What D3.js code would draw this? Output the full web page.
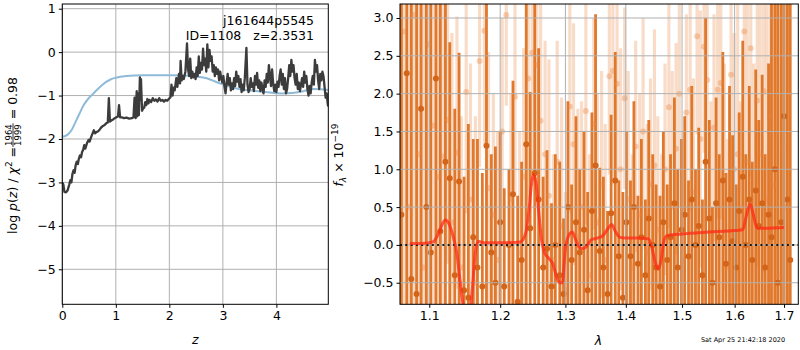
<!DOCTYPE html>
<html><head><meta charset="utf-8">
<script src="https://cdn.jsdelivr.net/npm/d3@7"></script>
<style>body{margin:0;background:#fff} svg{display:block} text{font-family:"DejaVu Sans",sans-serif}</style>
</head><body><svg id="c" width="800" height="350"></svg>
<script>
// ---------- left panel data: log p(z) ----------
const zVals = [0.00,0.02,0.04,0.07,0.10,0.13,0.15,0.17,0.19,0.21,0.23,0.25,0.27,0.29,0.31,0.33,0.35,0.37,0.39,0.41,0.43,0.46,0.49,0.51,0.54,0.57,0.59,0.61,0.64,0.67,0.70,0.73,0.76,0.79,0.82,0.85,0.87,0.89,0.92,0.95,0.98,1.01,1.04,1.06,1.08,1.11,1.15,1.20,1.25,1.30,1.33,1.35,1.37,1.39,1.40,1.42,1.43,1.45,1.46,1.47,1.49,1.51,1.53,1.55,1.57,1.59,1.61,1.63,1.66,1.69,1.72,1.75,1.78,1.81,1.84,1.87,1.90,1.93,1.96,1.99,2.02,2.04,2.06,2.08,2.10,2.13,2.15,2.18,2.20,2.21,2.23,2.25,2.27,2.30,2.33,2.35,2.37,2.39,2.41,2.43,2.45,2.47,2.49,2.51,2.53,2.55,2.57,2.59,2.61,2.63,2.65,2.67,2.69,2.71,2.73,2.75,2.77,2.79,2.81,2.83,2.85,2.87,2.89,2.91,2.93,2.95,2.97,2.99,3.01,3.03,3.05,3.07,3.09,3.11,3.13,3.15,3.17,3.19,3.21,3.23,3.25,3.27,3.29,3.31,3.33,3.35,3.37,3.39,3.41,3.44,3.46,3.48,3.50,3.52,3.54,3.56,3.58,3.60,3.62,3.64,3.66,3.68,3.70,3.72,3.74,3.76,3.78,3.80,3.82,3.84,3.86,3.88,3.90,3.92,3.94,3.96,3.98,4.00,4.02,4.04,4.06,4.08,4.10,4.12,4.14,4.16,4.18,4.20,4.22,4.24,4.26,4.28,4.30,4.32,4.34,4.36,4.38,4.40,4.42,4.44,4.46,4.48,4.50,4.52,4.54,4.56,4.58,4.60,4.62,4.64,4.66,4.68,4.70,4.72,4.74,4.76,4.78,4.80,4.82,4.84,4.86,4.88,4.90,4.92,4.94,4.96,4.97];
const logP = [-3.00,-3.05,-3.22,-3.23,-3.18,-3.05,-2.95,-3.00,-2.80,-2.72,-2.78,-2.60,-2.52,-2.58,-2.45,-2.38,-2.42,-2.30,-2.25,-2.14,-2.22,-2.10,-2.02,-2.06,-1.95,-1.86,-1.80,-1.87,-1.84,-1.82,-1.78,-1.73,-1.70,-1.68,-1.64,-1.62,-1.06,-1.60,-1.57,-1.55,-1.52,-1.50,-1.48,-1.22,-1.50,-1.50,-1.52,-1.51,-1.53,-1.52,-1.50,-1.05,-1.52,-0.90,-1.48,-0.95,-1.45,-0.58,-1.10,-0.62,-1.35,-1.30,-1.28,-1.15,-1.22,-1.08,-1.18,-1.10,-1.15,-1.06,-1.12,-1.09,-1.14,-1.06,-1.12,-1.10,-1.14,-1.10,-1.12,-1.08,-1.04,-0.75,-1.00,-0.82,-0.88,-0.60,-0.80,-0.50,-0.72,-0.20,-0.65,-0.55,-0.62,-0.45,0.20,-0.40,-0.55,-0.15,-0.60,-0.45,-0.58,-0.50,-0.62,-0.35,-0.55,-0.10,-0.48,-0.25,-0.40,0.08,-0.30,-0.15,-0.45,0.18,-0.35,0.05,-0.20,-0.10,-0.45,-0.30,-0.55,-0.35,-0.50,-0.40,-0.65,-0.45,-0.60,-0.70,-0.55,-0.80,-0.95,-0.70,-0.50,-0.75,-0.60,-0.88,-0.72,-0.85,-0.60,-0.78,-0.45,-0.68,-0.55,-0.80,-0.62,-0.92,-0.75,-0.88,-0.60,0.10,-0.75,-0.92,-0.85,-0.60,-0.80,-0.72,-0.90,-0.55,-0.75,-0.48,-0.82,-0.65,-0.90,-0.70,-0.85,-0.95,-0.65,-0.80,-0.50,-0.70,-0.30,-0.55,-0.78,-0.40,-0.72,-0.90,-0.75,-0.92,-0.68,-0.80,-0.55,-0.40,-0.75,-0.50,-0.85,-0.60,-0.95,-0.85,-0.60,-0.30,-0.55,-0.18,-0.45,-0.30,-0.60,-0.75,-0.50,-0.85,-0.70,-0.90,-0.75,-0.60,-0.80,-0.45,-0.70,-0.55,-0.85,-1.00,-0.78,-0.95,-0.70,-0.55,-0.75,-0.18,-0.45,-0.30,-0.65,-0.85,-0.50,-0.65,-0.45,-0.55,-0.80,-1.05,-0.95,-1.20,-1.25];
const zSmooth = [0.00,0.10,0.18,0.25,0.32,0.40,0.50,0.60,0.75,0.90,1.00,1.20,1.50,2.00,2.30,2.50,2.70,2.90,3.10,3.30,3.50,3.80,4.10,4.30,4.50,4.70,4.97];
const smoothP = [-1.95,-1.90,-1.78,-1.60,-1.42,-1.22,-1.05,-0.93,-0.75,-0.63,-0.59,-0.55,-0.53,-0.53,-0.54,-0.56,-0.60,-0.70,-0.78,-0.85,-0.88,-0.92,-0.95,-0.94,-0.90,-0.85,-0.87];
const titleLines = ["j161644p5545","ID=1108   z=2.3531"];

// ---------- right panel data: spectrum ----------
const waveA = [1.063,1.070,1.076,1.083,1.089,1.096,1.102,1.109,1.115,1.122,1.128,1.135,1.141,1.148,1.154,1.161,1.167,1.174,1.180,1.187,1.193,1.200,1.206,1.213,1.219,1.226,1.232,1.239,1.245,1.252,1.258,1.265,1.271,1.278,1.284,1.291,1.297,1.304,1.310,1.317,1.323,1.330,1.336,1.343,1.349,1.356,1.362,1.369,1.375,1.382,1.388,1.395,1.401,1.408,1.414,1.421,1.427,1.434,1.440,1.447,1.453,1.460,1.466,1.473,1.479,1.486,1.492,1.499,1.505,1.512,1.518,1.525,1.531,1.538,1.544,1.551,1.557,1.564,1.570,1.577,1.583,1.590,1.596,1.603,1.609,1.616,1.622,1.629,1.635,1.642,1.648,1.655,1.661,1.668,1.674,1.681,1.687,1.694,1.700,1.707,1.713];
const fluxA = [0.4,2.27,-0.45,-0.65,1.80,0.5,-0.1,2.2,0.18,1.1,0.88,-0.4,0.84,-0.6,-0.7,0.1,-0.3,-0.55,1.31,-0.1,-0.5,0.3,-0.55,0.0,0.67,-0.75,-0.2,1.33,0.22,0.95,0.6,-0.3,-0.05,-0.55,0.0,-0.4,-0.65,0.5,-0.2,0.3,-0.1,0.2,-0.6,0.45,1.05,-0.08,-0.3,-0.65,0.42,0.85,-0.15,-0.7,0.3,-0.15,0.5,-0.25,0.1,-0.4,0.35,0.0,-0.3,-0.55,0.3,-0.2,0.1,0.55,-0.3,0.2,0.4,-0.15,0.6,0.0,0.25,-0.4,1.1,0.35,-0.5,0.55,0.1,0.85,-0.25,0.6,0.05,-0.3,0.45,0.9,0.0,0.6,-0.2,0.72,0.25,0.55,-0.3,0.4,0.1,1.0,-0.5,0.3,1.7,0.6,-0.2];
const errA = [6,6,6,6,6,6,6,5,3.2,2.5,1.8,2.2,1.7,1.5,2.3,1.3,1.7,1.5,2.1,1.3,1.8,1.2,1.3,1.0,1.5,1.4,1.3,2.2,1.8,2.8,2.0,1.2,1.3,1.1,1.2,1.5,1.0,1.4,1.0,1.4,1.1,1.3,1.3,1.3,2.0,1.1,1.2,1.1,1.3,1.7,1.0,1.4,1.2,1.0,1.4,0.9,1.3,1.0,1.3,1.2,1.1,1.2,1.2,1.0,1.1,1.4,1.3,1.2,1.3,1.0,1.5,1.0,1.3,1.0,1.9,1.3,1.0,1.4,1.1,1.7,1.2,1.5,1.4,1.1,1.3,1.8,1.2,1.5,1.3,1.6,1.4,1.7,1.5,2.0,3.5,5,5,5,5,5,5];
const waveB = [1.066,1.073,1.079,1.086,1.092,1.099,1.105,1.112,1.118,1.125,1.131,1.138,1.144,1.151,1.157,1.164,1.170,1.177,1.183,1.190,1.196,1.203,1.209,1.216,1.222,1.229,1.235,1.242,1.248,1.255,1.261,1.268,1.274,1.281,1.287,1.294,1.300,1.307,1.313,1.320,1.326,1.333,1.339,1.346,1.352,1.359,1.365,1.372,1.378,1.385,1.391,1.398,1.404,1.411,1.417,1.424,1.430,1.437,1.443,1.450,1.456,1.463,1.469,1.476,1.482,1.489,1.495,1.502,1.508,1.515,1.521,1.528,1.534,1.541,1.547,1.554,1.560,1.567,1.573,1.580,1.586,1.593,1.599,1.606,1.612,1.619,1.625,1.632,1.638,1.645,1.651,1.658,1.664,1.671,1.677,1.684,1.690,1.697,1.703,1.710];
const fluxB = [2.82,0.5,3.04,1.2,-0.3,2.65,1.58,0.9,1.17,1.65,0.3,1.22,-0.3,2.02,0.6,-0.5,2.43,2.83,0.75,0.4,-0.2,1.5,3.04,0.6,1.96,-0.1,0.9,2.2,2.54,2.38,1.64,1.2,0.65,-0.2,1.1,0.25,-0.6,1.83,1.33,0.1,0.5,1.77,-0.4,1.6,0.3,0.8,-0.2,2.23,2.3,2.13,1.0,1.94,0.6,-0.3,1.3,0.4,1.5,-0.1,0.8,1.05,0.2,-0.5,1.0,1.82,0.5,1.27,2.0,-0.2,1.75,2.05,0.7,2.76,1.4,2.62,2.18,0.3,1.55,2.05,2.14,0.9,-0.3,2.25,1.0,1.2,0.2,2.82,1.1,2.6,0.4,1.91,1.2,2.03,0.6,1.7,0.8,2.5,-0.4,1.3,0.5,2.0];
const errB = [6,6,6,6,6,6,4,3,2.2,1.9,2.5,1.8,2.0,1.6,1.8,2.2,1.4,1.5,1.8,1.6,1.7,1.5,1.2,1.4,1.3,1.6,1.7,1.6,1.7,1.8,1.6,1.5,1.8,1.4,1.6,1.7,1.3,1.4,1.6,1.7,1.4,1.5,1.6,1.4,1.7,1.5,1.8,1.3,1.5,1.3,1.6,1.2,1.7,1.5,1.4,1.6,1.5,1.7,1.4,1.8,1.5,1.7,1.4,1.6,1.8,1.4,1.5,1.7,1.3,1.6,1.5,1.3,1.7,1.4,1.8,1.6,1.5,1.7,1.8,1.5,1.7,1.6,1.8,2.0,1.7,1.8,2.1,1.7,2.0,2.2,2.5,2.4,2.8,3.5,4,6,6,6,6,6];
const modelWave = [1.074,1.090,1.105,1.113,1.118,1.122,1.127,1.133,1.138,1.142,1.146,1.150,1.155,1.160,1.164,1.168,1.175,1.200,1.230,1.238,1.243,1.247,1.250,1.254,1.258,1.262,1.267,1.273,1.280,1.286,1.291,1.295,1.300,1.305,1.311,1.316,1.322,1.328,1.334,1.342,1.352,1.362,1.370,1.376,1.382,1.390,1.400,1.420,1.440,1.446,1.451,1.457,1.462,1.467,1.472,1.500,1.550,1.600,1.616,1.623,1.631,1.637,1.645,1.660,1.700];
const modelFlux = [0.02,0.02,0.04,0.16,0.28,0.33,0.28,0.10,-0.12,-0.45,-0.75,-0.95,-0.95,-0.55,-0.10,0.05,0.03,0.03,0.04,0.15,0.45,0.80,0.93,0.82,0.45,0.10,-0.10,-0.17,-0.25,-0.42,-0.50,-0.50,-0.05,0.12,0.17,0.08,-0.03,-0.05,-0.02,0.07,0.09,0.13,0.22,0.27,0.18,0.10,0.09,0.09,0.08,-0.05,-0.22,-0.32,-0.20,0.05,0.12,0.145,0.17,0.19,0.20,0.38,0.54,0.40,0.22,0.22,0.23];
const timestamp = "Sat Apr 25 21:42:18 2020";

// ---------- drawing ----------
const svg = d3.select("#c");
const L = {x0:62.3, x1:328.3, y0:4, y1:304.3};
const R = {x0:400, x1:798.3, y0:4, y1:304.3};
const xL = d3.scaleLinear().domain([0,4.97]).range([L.x0,L.x1]);
const yL = d3.scaleLinear().domain([-5.806,1.108]).range([L.y1,L.y0]);
const xR = d3.scaleLog().domain([1.0612,1.730]).range([R.x0,R.x1]);
const yR = d3.scaleLinear().domain([-0.785,3.185]).range([R.y1,R.y0]);
const FS = 12.5, gridC = "#b0b0b0";

const defs = svg.append("defs");
defs.append("clipPath").attr("id","clipL").append("rect").attr("x",L.x0).attr("y",L.y0).attr("width",L.x1-L.x0).attr("height",L.y1-L.y0);
defs.append("clipPath").attr("id","clipR").append("rect").attr("x",R.x0).attr("y",R.y0).attr("width",R.x1-R.x0).attr("height",R.y1-R.y0);

// Left grid
const xtL = [0,1,2,3,4], ytL = [1,0,-1,-2,-3,-4,-5];
const gL = svg.append("g");
gL.selectAll(".gx").data(xtL).join("line").attr("x1",d=>xL(d)).attr("x2",d=>xL(d)).attr("y1",L.y0).attr("y2",L.y1).attr("stroke",gridC).attr("stroke-width",1);
gL.selectAll(".gy").data(ytL).join("line").attr("y1",d=>yL(d)).attr("y2",d=>yL(d)).attr("x1",L.x0).attr("x2",L.x1).attr("stroke",gridC).attr("stroke-width",1);

const cl = svg.append("g").attr("clip-path","url(#clipL)");
cl.append("path").datum(zSmooth.map((z,i)=>[z,smoothP[i]]))
  .attr("d",d3.line().x(d=>xL(d[0])).y(d=>yL(d[1])).curve(d3.curveMonotoneX))
  .attr("fill","none").attr("stroke","#8fbbd9").attr("stroke-width",2);
cl.append("path").datum(zVals.map((z,i)=>[z,logP[i]]))
  .attr("d",d3.line().x(d=>xL(d[0])).y(d=>yL(d[1])))
  .attr("fill","none").attr("stroke","#3c3c3c").attr("stroke-width",2.3).attr("stroke-linejoin","round");

// axes left
svg.append("g").attr("transform",`translate(0,${L.y1})`)
  .call(d3.axisBottom(xL).tickValues(xtL).tickFormat(d3.format("d")).tickSize(3.5).tickPadding(3))
  .call(g=>g.select(".domain").remove());
svg.append("g").attr("transform",`translate(${L.x0},0)`)
  .call(d3.axisLeft(yL).tickValues(ytL).tickFormat(d3.format("d")).tickSize(3.5).tickPadding(3))
  .call(g=>g.select(".domain").remove());
svg.append("rect").attr("x",L.x0).attr("y",L.y0).attr("width",L.x1-L.x0).attr("height",L.y1-L.y0).attr("fill","none").attr("stroke","#000").attr("stroke-width",1);

// title text
svg.append("text").attr("x",314).attr("y",25).attr("text-anchor","end").attr("font-size",FS).text(titleLines[0]);
svg.append("text").attr("x",314).attr("y",40).attr("text-anchor","end").attr("font-size",FS).attr("xml:space","preserve").style("white-space","pre").text(titleLines[1]);

// Right panel
const cr = svg.append("g").attr("clip-path","url(#clipR)");
// light series
cr.selectAll(".eb").data(waveB.map((w,i)=>({w,f:fluxB[i],e:errB[i]}))).join("line")
  .attr("x1",d=>xR(d.w)).attr("x2",d=>xR(d.w)).attr("y1",d=>yR(d.f-d.e)).attr("y2",d=>yR(d.f+d.e))
  .attr("stroke","#e8823a").attr("stroke-opacity",0.28).attr("stroke-width",3.2);
// dark series
cr.selectAll(".ea").data(waveA.map((w,i)=>({w,f:fluxA[i],e:errA[i]}))).join("line")
  .attr("x1",d=>xR(d.w)).attr("x2",d=>xR(d.w)).attr("y1",d=>yR(d.f-d.e)).attr("y2",d=>yR(d.f+d.e))
  .attr("stroke","#de7222").attr("stroke-opacity",0.95).attr("stroke-width",2.8);
cr.selectAll(".pb").data(waveB.map((w,i)=>({w,f:fluxB[i]}))).join("circle")
  .attr("cx",d=>xR(d.w)).attr("cy",d=>yR(d.f)).attr("r",3).attr("fill","#e8823a").attr("fill-opacity",0.35);
cr.selectAll(".pa").data(waveA.map((w,i)=>({w,f:fluxA[i]}))).join("circle")
  .attr("cx",d=>xR(d.w)).attr("cy",d=>yR(d.f)).attr("r",3).attr("fill","#d2651a");

// right grid (over the bars)
const xtR = [1.1,1.2,1.3,1.4,1.5,1.6,1.7], ytR = [-0.5,0,0.5,1,1.5,2,2.5,3];
const gR = svg.append("g");
gR.selectAll(".gx").data(xtR).join("line").attr("x1",d=>xR(d)).attr("x2",d=>xR(d)).attr("y1",R.y0).attr("y2",R.y1).attr("stroke",gridC).attr("stroke-width",1);
gR.selectAll(".gy").data(ytR).join("line").attr("y1",d=>yR(d)).attr("y2",d=>yR(d)).attr("x1",R.x0).attr("x2",R.x1).attr("stroke",gridC).attr("stroke-width",1);

const cr2 = svg.append("g").attr("clip-path","url(#clipR)");
cr2.append("line").attr("x1",R.x0).attr("x2",R.x1).attr("y1",yR(0)).attr("y2",yR(0))
  .attr("stroke","#000").attr("stroke-width",2).attr("stroke-dasharray","2,3.3").attr("opacity",0.85);
cr2.append("path").datum(modelWave.map((w,i)=>[w,modelFlux[i]]))
  .attr("d",d3.line().x(d=>xR(d[0])).y(d=>yR(d[1])).curve(d3.curveMonotoneX))
  .attr("fill","none").attr("stroke","#ff2a14").attr("stroke-opacity",0.75).attr("stroke-width",3);

svg.append("g").attr("transform",`translate(0,${R.y1})`)
  .call(d3.axisBottom(xR).tickValues(xtR).tickFormat(d3.format(".1f")).tickSize(3.5).tickPadding(3))
  .call(g=>g.select(".domain").remove());
svg.append("g").attr("transform",`translate(${R.x0},0)`)
  .call(d3.axisLeft(yR).tickValues(ytR).tickFormat(d3.format(".1f")).tickSize(3.5).tickPadding(3))
  .call(g=>g.select(".domain").remove());
svg.append("rect").attr("x",R.x0).attr("y",R.y0).attr("width",R.x1-R.x0).attr("height",R.y1-R.y0).attr("fill","none").attr("stroke","#000").attr("stroke-width",1);

svg.selectAll(".tick text").attr("font-size",FS).attr("font-family","DejaVu Sans").attr("fill","#000");
svg.selectAll(".tick line").attr("stroke","#000");

// axis labels
svg.append("text").attr("x",xL(2.485)).attr("y",344).attr("text-anchor","middle").attr("font-size",FS).attr("font-style","italic").text("z");
svg.append("text").attr("x",598.5).attr("y",345).attr("text-anchor","middle").attr("font-size",FS).attr("font-style","italic").text("λ");

// right y label
const ry = svg.append("text").attr("transform","translate(343,155) rotate(-90)").attr("text-anchor","middle").attr("font-size",FS);
ry.append("tspan").attr("font-style","italic").text("f");
ry.append("tspan").attr("font-size",9).attr("font-style","italic").attr("dy",3).text("λ");
ry.append("tspan").attr("dy",-3).text(" × 10");
ry.append("tspan").attr("font-size",9).attr("dy",-5).text("−19");

// left y label with fraction
const gl = svg.append("g");
const t1 = gl.append("text").attr("font-size",FS);
t1.append("tspan").text("log ");
t1.append("tspan").attr("font-style","italic").text("p");
t1.append("tspan").text("(");
t1.append("tspan").attr("font-style","italic").text("z");
t1.append("tspan").text(") / ");
t1.append("tspan").attr("font-style","italic").text("χ");
t1.append("tspan").attr("font-size",9).attr("dy",-5).text("2");
t1.append("tspan").attr("dy",5).text(" = ");
const w1 = t1.node().getComputedTextLength();
const fnum = gl.append("text").attr("font-size",8.5).attr("text-anchor","middle").attr("y",-5.5).text("1964");
const fw = fnum.node().getComputedTextLength()+2;
fnum.attr("x",w1+fw/2);
gl.append("text").attr("font-size",8.5).attr("text-anchor","middle").attr("x",w1+fw/2).attr("y",3.5).text("1999");
gl.append("line").attr("x1",w1).attr("x2",w1+fw).attr("y1",-4).attr("y2",-4).attr("stroke","#000").attr("stroke-width",0.8);
const t3 = gl.append("text").attr("font-size",FS).attr("x",w1+fw).attr("xml:space","preserve").style("white-space","pre").text(" = 0.98");
const total = w1+fw+t3.node().getComputedTextLength();
gl.attr("transform",`translate(17,${155.5+total/2}) rotate(-90)`);

// timestamp
svg.append("text").attr("x",743).attr("y",342).attr("text-anchor","middle").attr("font-size",6.5).text(timestamp);
</script></body></html>
